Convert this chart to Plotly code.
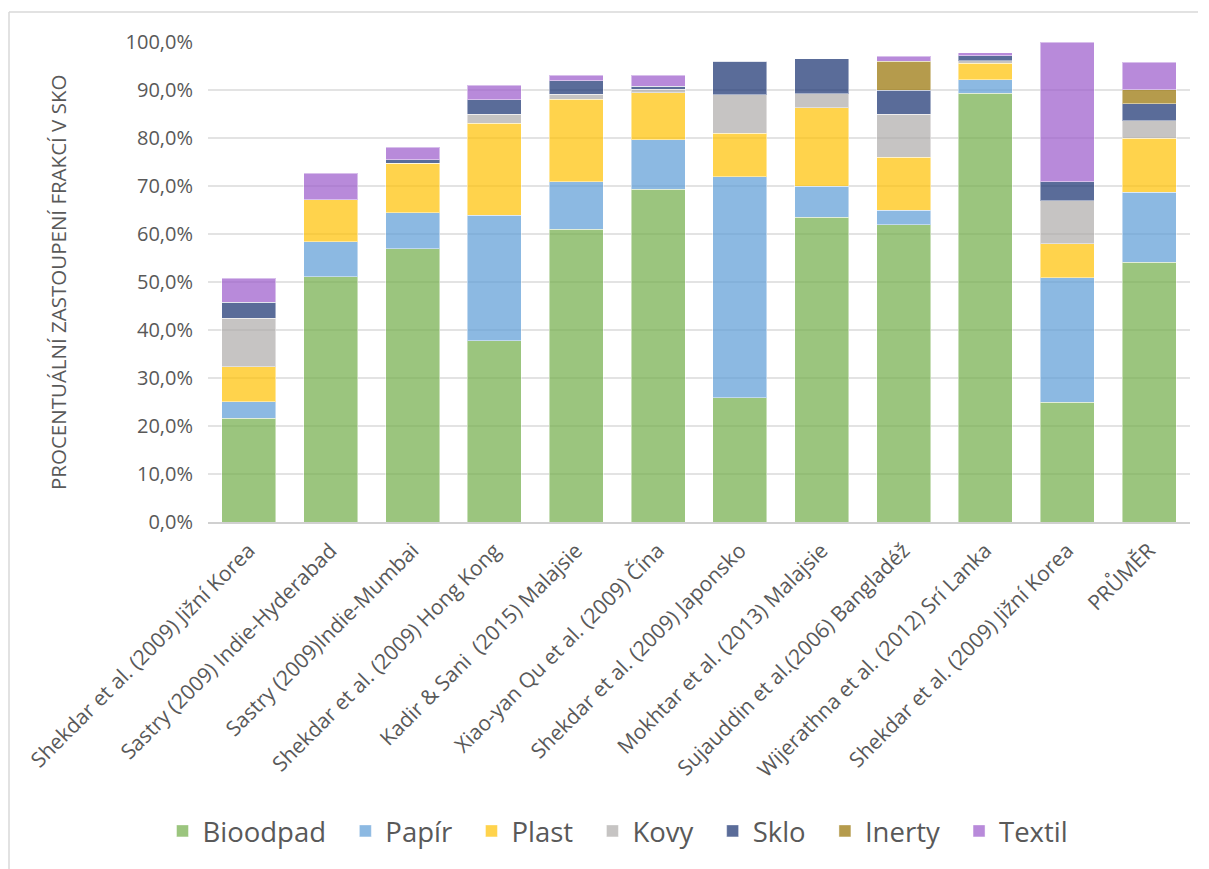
import numpy as np
import plotly.graph_objects as go

categories = [
    "Shekdar et al. (2009) Jižní Korea",
    "Sastry (2009) Indie-Hyderabad",
    "Sastry (2009)Indie-Mumbai",
    "Shekdar et al. (2009) Hong Kong",
    "Kadir & Sani\u00a0 (2015) Malajsie",
    "Xiao-yan Qu et al. (2009) Čína",
    "Shekdar et al. (2009) Japonsko",
    "Mokhtar et al. (2013) Malajsie",
    "Sujauddin et al.(2006) Bangladéž",
    "Wijerathna et al. (2012) Srí Lanka",
    "Shekdar et al. (2009) Jižní Korea",
    "PRŮMĚR",
]

bioodpad = [21.6, 51.1, 56.9, 37.8, 61.0, 69.3, 25.9, 63.5, 61.9, 89.3, 24.9, 54.1]
papir    = [3.5, 7.3, 7.5, 26.1, 9.9, 10.3, 46.0, 6.4, 3.0, 2.8, 26.0, 14.6]
plast    = [7.2, 8.7, 10.3, 19.2, 17.2, 9.8, 9.1, 16.4, 11.1, 3.5, 7.1, 11.2]
kovy     = [10.1, 0.0, 0.0, 1.9, 1.0, 0.8, 8.0, 2.9, 9.0, 0.5, 8.9, 3.7]
sklo     = [3.4, 0.0, 0.8, 3.0, 2.8, 0.6, 7.0, 7.3, 5.0, 1.0, 4.0, 3.5]
inerty   = [0.0, 0.0, 0.0, 0.0, 0.0, 0.0, 0.0, 0.0, 6.0, 0.0, 0.0, 3.0]
textil   = [5.0, 5.6, 2.6, 3.0, 1.2, 2.3, 0.0, 0.0, 1.0, 0.7, 29.1, 5.7]

series = [
    ("Bioodpad", bioodpad, "rgba(112,173,71,0.7)"),
    ("Papír", papir, "rgba(91,155,213,0.7)"),
    ("Plast", plast, "rgba(255,192,0,0.7)"),
    ("Kovy", kovy, "rgba(168,166,164,0.66)"),
    ("Sklo", sklo, "rgba(20,45,110,0.7)"),
    ("Inerty", inerty, "rgba(150,112,0,0.7)"),
    ("Textil", textil, "rgba(154,89,202,0.7)"),
]

FONT = "Open Sans"
TXT = "#595959"
GAP = "\u00a0\u00a0"

x = list(range(len(categories)))

fig = go.Figure()
for name, vals, col in series:
    fig.add_trace(go.Bar(
        x=x, y=np.array(vals) / 100.0, name=name + GAP,
        marker=dict(color=col, line=dict(color="rgba(255,255,255,0.45)", width=1)),
    ))

# page has an 8px body margin; figure coordinates are page coordinates minus 8
OFF = 8
W, H = 1209 - OFF, 869 - OFF
L, R, T = 208 - OFF, 19, 42 - OFF
B = H - (522 - OFF)
pw, ph = W - L - R, H - T - B

def px(xp):
    return (xp - OFF - L) / pw

def py(yp):
    return (H - B - (yp - OFF)) / ph

fig.update_layout(
    width=W, height=H,
    margin=dict(l=L, r=R, t=T, b=B, autoexpand=False),
    paper_bgcolor="white", plot_bgcolor="white",
    barmode="stack", bargap=0.34,
    separators=", ",
    font=dict(family=FONT, color=TXT, size=20),
    showlegend=True,
    legend=dict(
        orientation="h", x=px(625), xanchor="center", y=py(831), yanchor="middle",
        font=dict(size=27.5, color=TXT, family=FONT), traceorder="normal",
        itemwidth=30,
    ),
    xaxis=dict(
        tickmode="array", tickvals=x, ticktext=categories, tickangle=-45,
        range=[-0.5, len(categories) - 0.5],
        showline=True, linecolor="#D0D0D0", linewidth=2,
        showgrid=False, ticks="", tickfont=dict(size=21, color=TXT),
        ticklabelstandoff=6,
    ),
    yaxis=dict(
        range=[0, 1.0], dtick=0.1, tickformat=".1%",
        showgrid=True, gridcolor="#E3E3E3", gridwidth=2,
        zeroline=False, showline=False, ticks="",
        tickfont=dict(size=20, color=TXT), ticklabelstandoff=14,
    ),
    annotations=[dict(
        text="PROCENTUÁLNÍ ZASTOUPENÍ FRAKCÍ V SKO", textangle=-90,
        xref="paper", yref="paper", x=px(58), y=py(283), xanchor="center", yanchor="middle",
        showarrow=False, font=dict(size=20.5, color=TXT, family=FONT),
    )],
    shapes=[
        dict(type="line", xref="paper", yref="paper", x0=px(9), x1=px(1198), y0=py(12), y1=py(12),
             line=dict(color="#D9D9D9", width=1.5)),
        dict(type="line", xref="paper", yref="paper", x0=px(9), x1=px(9), y0=py(12), y1=py(869),
             line=dict(color="#D9D9D9", width=1.5)),
    ],
)

fig.write_html("out.html")
